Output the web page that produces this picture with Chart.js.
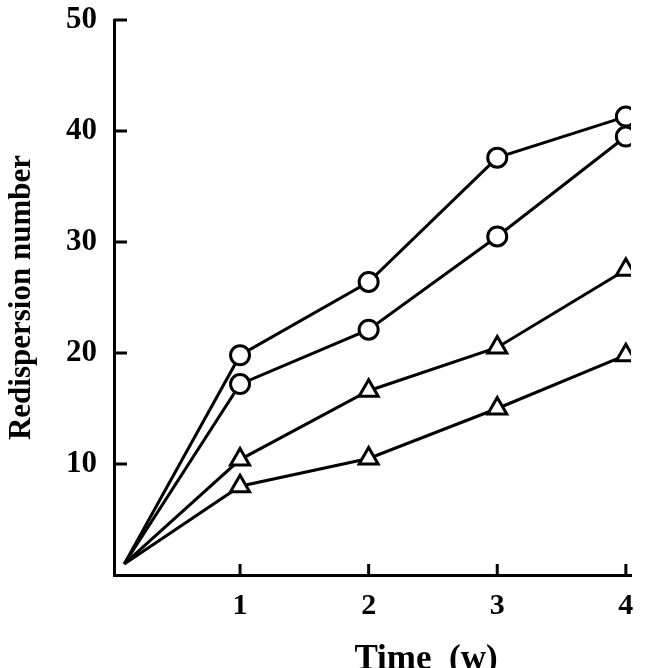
<!DOCTYPE html>
<html>
<head>
<meta charset="utf-8">
<script src="https://cdn.jsdelivr.net/npm/chart.js@4.4.0/dist/chart.umd.min.js"></script>
<style>
  html, body { margin: 0; padding: 0; background: #fff; }
  #wrap { width: 662px; height: 668px; position: relative; }
</style>
</head>
<body>
<div id="wrap"><canvas id="chart"></canvas></div>
<script>
// time in weeks (first point is where the lines start, near the origin)
const timeWeeks = [0.1, 1, 2, 3, 4];
const circleUpper = [1, 19.8, 26.4, 37.6, 41.3];
const circleLower = [1, 17.2, 22.1, 30.5, 39.5];
const triangleUpper = [1, 10.4, 16.6, 20.5, 27.5];
const triangleLower = [1, 8.0, 10.5, 15.0, 19.8];

const xTicks = [1, 2, 3, 4];
const yTicks = [10, 20, 30, 40, 50];

const serif = '"Liberation Serif", "DejaVu Serif", serif';

function makeSeries(values, style, size) {
    return {
        data: values.map((v, i) => ({ x: timeWeeks[i], y: v })),
        borderColor: '#000',
        borderWidth: 3,
        pointStyle: style,
        pointRadius: values.map((_, i) => i === 0 ? 0 : size),
        pointBorderWidth: 3,
        pointBorderColor: '#000',
        pointBackgroundColor: '#fff',
        tension: 0
    };
}

// ticks in the reference point into the plot, so draw them here
const inwardTicks = {
    id: 'inwardTicks',
    afterDatasetsDraw(chart) {
        const { ctx, scales: { x, y } } = chart;
        ctx.save();
        ctx.strokeStyle = '#000';
        ctx.lineWidth = 3;
        yTicks.forEach(v => {
            const py = y.getPixelForValue(v);
            ctx.beginPath();
            ctx.moveTo(x.left, py);
            ctx.lineTo(x.left + 13, py);
            ctx.stroke();
        });
        xTicks.forEach(v => {
            const px = x.getPixelForValue(v);
            ctx.beginPath();
            ctx.moveTo(px, y.bottom);
            ctx.lineTo(px, y.bottom - 11);
            ctx.stroke();
        });
        // x axis title sits right of centre in the original
        ctx.fillStyle = '#000';
        ctx.font = 'bold 35px ' + serif;
        ctx.textAlign = 'center';
        ctx.textBaseline = 'alphabetic';
        ctx.fillText('Time  (w)', x.left + 312, 669);
        ctx.restore();
    }
};

new Chart(document.getElementById('chart'), {
    type: 'line',
    data: {
        datasets: [
            makeSeries(circleUpper, 'circle', 9.5),
            makeSeries(circleLower, 'circle', 9.5),
            makeSeries(triangleUpper, 'triangle', 11),
            makeSeries(triangleLower, 'triangle', 11)
        ]
    },
    options: {
        responsive: true,
        maintainAspectRatio: false,
        animation: false,
        layout: { padding: { top: 20, right: 31, left: 0, bottom: 0 } },
        plugins: {
            legend: { display: false },
            tooltip: { enabled: false }
        },
        scales: {
            x: {
                type: 'linear',
                min: 0.02,
                max: 4.04,
                afterBuildTicks: s => { s.ticks = xTicks.map(v => ({ value: v })); },
                afterFit: s => { s.height = 93; s.paddingLeft = 0; s.paddingRight = 0; },
                grid: { display: true, drawOnChartArea: false, drawTicks: false },
                border: { display: true, color: '#000', width: 3 },
                ticks: {
                    padding: 13,
                    color: '#000',
                    font: { family: serif, size: 30, weight: 'bold' },
                    maxRotation: 0
                },
                title: { display: false }
            },
            y: {
                min: 0,
                max: 50,
                afterBuildTicks: s => { s.ticks = yTicks.map(v => ({ value: v })); },
                afterFit: s => { s.width = 114; s.paddingTop = 0; s.paddingBottom = 0; },
                grid: { display: true, drawOnChartArea: false, drawTicks: false },
                border: { display: true, color: '#000', width: 3 },
                ticks: {
                    padding: 17,
                    color: '#000',
                    font: { family: serif, size: 31, weight: 'bold' }
                },
                title: {
                    display: true,
                    text: 'Redispersion number',
                    color: '#000',
                    padding: { top: 6, bottom: 0 },
                    font: { family: serif, size: 31, weight: 'bold', lineHeight: 1 }
                }
            }
        }
    },
    plugins: [inwardTicks]
});
</script>
</body>
</html>
